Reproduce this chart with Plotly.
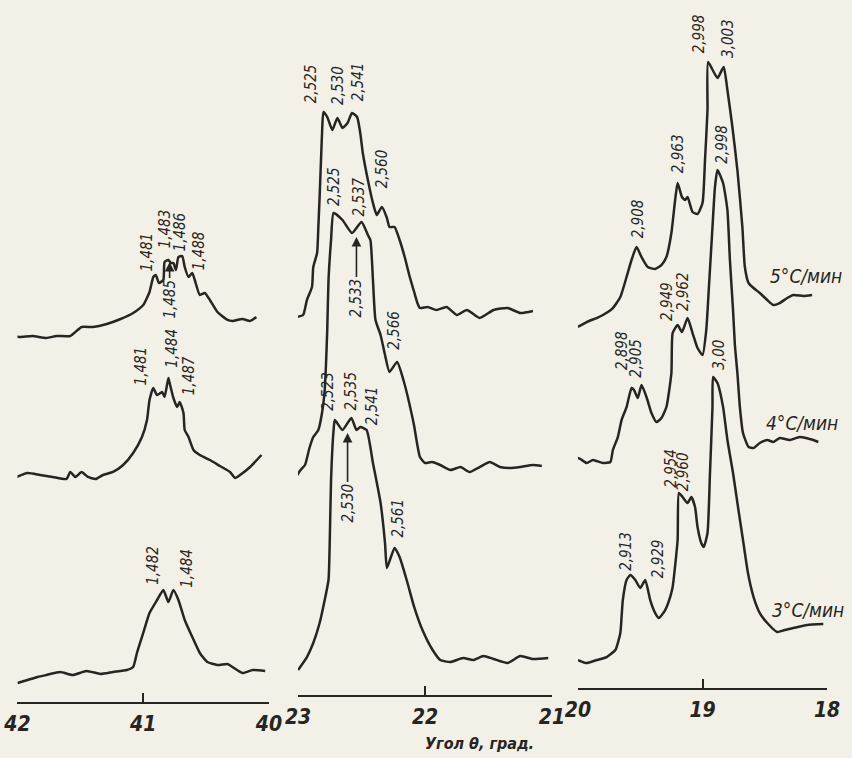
import plotly.graph_objects as go

# ---------------- data (theta in degrees, intensity in arbitrary units) ----------------
# Panel 1 (theta 42 -> 40)
p1_theta_5 = [42.08, 41.98, 41.88, 41.77, 41.69, 41.58, 41.49, 41.40, 41.29, 41.18, 41.08, 41.00, 40.95, 40.92, 40.90,
              40.875, 40.84, 40.83, 40.80, 40.78, 40.76, 40.74, 40.72, 40.69, 40.67, 40.64, 40.61, 40.59, 40.55, 40.51,
              40.47, 40.41, 40.33, 40.29, 40.21, 40.15, 40.10]
p1_int_5 = [366, 365, 366, 364, 366, 366, 375, 375, 378, 383, 389, 397, 410, 425, 427,
            419, 422, 440, 442, 439, 439, 432, 445, 446, 435, 425, 429, 422, 407, 409,
            402, 390, 382, 381, 383, 381, 385]
p1_theta_4 = [42.04, 41.92, 41.82, 41.72, 41.61, 41.58, 41.54, 41.49, 41.44, 41.38, 41.32, 41.24, 41.16, 41.08, 41.01,
              40.97, 40.95, 40.92, 40.89, 40.85, 40.83, 40.80, 40.79, 40.76, 40.73, 40.71, 40.68, 40.67, 40.64, 40.60,
              40.55, 40.47, 40.39, 40.31, 40.27, 40.23, 40.15, 40.06]
p1_int_4 = [223, 229, 227, 225, 223, 230, 225, 230, 225, 223, 227, 230, 237, 249, 265,
            282, 302, 314, 307, 310, 305, 324, 319, 304, 295, 300, 289, 272, 265, 252,
            247, 242, 236, 230, 224, 227, 235, 247]
p1_theta_3 = [42.00, 41.92, 41.84, 41.77, 41.66, 41.56, 41.45, 41.34, 41.24, 41.13, 41.08, 41.05, 41.00, 40.95, 40.89,
              40.84, 40.80, 40.76, 40.72, 40.67, 40.61, 40.55, 40.49, 40.41, 40.33, 40.29, 40.21, 40.13, 40.03]
p1_int_3 = [19, 22, 25, 27, 30, 27, 31, 28, 30, 32, 35, 49, 69, 89, 102,
            112, 100, 112, 102, 82, 65, 49, 40, 37, 38, 35, 29, 32, 31]

# Panel 2 (theta 23 -> 21)
p2_theta_5 = [23.08, 23.01, 22.96, 22.93, 22.89, 22.88, 22.85, 22.84, 22.83, 22.82, 22.81, 22.80, 22.77, 22.73, 22.69,
              22.65, 22.61, 22.575, 22.535, 22.51, 22.49, 22.45, 22.41, 22.38, 22.34, 22.30, 22.28, 22.24, 22.20, 22.16,
              22.12, 22.09, 22.06, 22.04, 21.98, 21.91, 21.83, 21.75, 21.67, 21.57, 21.46, 21.35, 21.25, 21.15]
p2_int_5 = [377, 378, 380, 395, 408, 428, 442, 468, 498, 532, 565, 583, 578, 565, 577,
            567, 572, 582, 578, 562, 542, 515, 492, 480, 488, 477, 468, 468, 455, 438,
            418, 405, 392, 387, 388, 385, 388, 380, 385, 377, 385, 387, 382, 384]
p2_theta_4 = [23.04, 22.98, 22.945, 22.91, 22.88, 22.84, 22.81, 22.79, 22.78, 22.77, 22.76, 22.74, 22.72, 22.65, 22.575,
              22.50, 22.45, 22.43, 22.41, 22.39, 22.35, 22.315, 22.28, 22.22, 22.17, 22.09, 22.04, 22.00, 21.945, 21.88,
              21.80, 21.72, 21.65, 21.57, 21.49, 21.41, 21.33, 21.25, 21.15, 21.08]
p2_int_4 = [213, 225, 230, 247, 258, 265, 283, 305, 330, 365, 415, 455, 482, 475, 462,
            473, 460, 455, 415, 375, 360, 340, 323, 333, 315, 272, 238, 232, 233, 230,
            225, 228, 223, 228, 233, 228, 227, 228, 230, 229]
p2_theta_3 = [23.00, 22.93, 22.88, 22.83, 22.79, 22.76, 22.75, 22.74, 22.72, 22.71, 22.65, 22.58, 22.54, 22.51, 22.46,
              22.41, 22.35, 22.315, 22.30, 22.24, 22.20, 22.14, 22.09, 22.02, 21.94, 21.88, 21.80, 21.70, 21.62, 21.54,
              21.46, 21.35, 21.25, 21.15, 21.03]
p2_int_3 = [25, 38, 52, 72, 95, 115, 155, 215, 265, 275, 265, 277, 265, 268, 265,
            232, 192, 152, 127, 147, 138, 113, 90, 65, 45, 35, 33, 37, 35, 39,
            36, 32, 39, 36, 37]

# Panel 3 (theta 20 -> 18)
p3_theta_5 = [20.09, 20.01, 19.93, 19.85, 19.80, 19.72, 19.66, 19.61, 19.57, 19.53, 19.49, 19.44, 19.38, 19.33, 19.29,
              19.25, 19.22, 19.20, 19.165, 19.14, 19.12, 19.08, 19.04, 19.00, 18.98, 18.96, 18.955, 18.88, 18.83, 18.80,
              18.76, 18.72, 18.68, 18.66, 18.63, 18.59, 18.54, 18.48, 18.43, 18.38, 18.32, 18.27, 18.19, 18.12]
p3_int_5 = [365, 361, 366, 370, 373, 380, 391, 411, 428, 441, 431, 421, 419, 423, 431,
            455, 488, 505, 491, 488, 491, 476, 474, 485, 528, 578, 626, 610, 621, 598,
            561, 518, 461, 421, 405, 400, 395, 388, 383, 385, 390, 393, 392, 393]
p3_theta_4 = [20.06, 20.00, 19.93, 19.88, 19.80, 19.74, 19.72, 19.68, 19.65, 19.61, 19.57, 19.55, 19.52, 19.49, 19.45,
              19.41, 19.37, 19.33, 19.29, 19.25, 19.24, 19.20, 19.165, 19.12, 19.08, 19.04, 19.00, 18.97, 18.95, 18.92,
              18.90, 18.88, 18.835, 18.80, 18.78, 18.755, 18.74, 18.72, 18.70, 18.675, 18.63, 18.59, 18.54, 18.48,
              18.43, 18.38, 18.30, 18.22, 18.11, 18.07]
p3_int_4 = [223, 230, 225, 228, 225, 226, 238, 251, 268, 281, 300, 298, 290, 303, 291,
            275, 266, 270, 281, 315, 355, 363, 356, 370, 355, 340, 333, 358, 398, 461,
            501, 518, 505, 478, 428, 378, 343, 315, 281, 255, 241, 240, 245, 248,
            246, 250, 248, 251, 248, 246]
p3_theta_3 = [20.00, 19.93, 19.85, 19.77, 19.70, 19.66, 19.65, 19.64, 19.61, 19.58, 19.54, 19.50, 19.46, 19.42, 19.38,
              19.35, 19.30, 19.26, 19.24, 19.20, 19.19, 19.16, 19.12, 19.09, 19.06, 19.04, 19.01, 18.99, 18.96, 18.94,
              18.92, 18.915, 18.88, 18.835, 18.80, 18.755, 18.715, 18.675, 18.635, 18.59, 18.54, 18.48, 18.40, 18.34,
              18.27, 18.16, 18.03]
p3_int_3 = [28, 25, 28, 31, 38, 55, 71, 88, 108, 113, 108, 100, 108, 88, 75,
            70, 78, 91, 101, 148, 195, 191, 185, 191, 181, 161, 145, 141, 155, 215,
            281, 311, 305, 281, 248, 215, 181, 148, 115, 91, 75, 65, 56, 58,
            60, 63, 64]

# Peak labels (interplanar spacings), anchored at the bottom of each label
p1_label_text = ["1,481", "1,483", "1,486", "1,488", "1,481", "1,484", "1,487", "1,482", "1,484"]
p1_label_theta = [40.97, 40.82, 40.70, 40.55, 41.01, 40.77, 40.63, 40.92, 40.65]
p1_label_int = [429, 452, 449, 430, 315, 332, 305, 115, 112]

p2_label_text = ["2,525", "2,530", "2,541", "2,560", "2,525", "2,537", "2,566", "2,523", "2,535", "2,541", "2,561"]
p2_label_theta = [22.90, 22.69, 22.53, 22.34, 22.72, 22.52, 22.25, 22.77, 22.59, 22.42, 22.22]
p2_label_int = [590, 588, 592, 505, 487, 477, 343, 282, 282, 268, 155]

p3_label_text = ["2,998", "3,003", "2,908", "2,963", "2,998", "2,949", "2,962", "2,898", "2,905", "3,00",
                 "2,913", "2,929", "2,954", "2,960"]
p3_label_theta = [19.03, 18.80, 19.52, 19.20, 18.85, 19.29, 19.16, 19.65, 19.54, 18.87,
                  19.62, 19.36, 19.26, 19.16]
p3_label_int = [633, 628, 448, 513, 522, 365, 375, 316, 308, 316,
                115, 108, 198, 195]

# Labels that point to a peak with an arrow (panel, text, head position)
arrow_panel = [1, 2, 2]
arrow_text = ["1,485", "2,533", "2,530"]
arrow_theta = [40.79, 22.54, 22.61]
arrow_int = [440, 458, 262]

# Heating-rate labels (panel 3)
rate_text = ["5°C/мин", "4°C/мин", "3°C/мин"]
rate_theta = [18.17, 18.20, 18.15]
rate_int = [412, 265, 78]

# Axis ticks
p1_ticks = [42, 41, 40]
p2_ticks = [23, 22, 21]
p3_ticks = [20, 19, 18]
axis_title = "Угол θ, град."

# ---------------- styling ----------------
INK = "#262522"
PAPER = "#f3f0e7"
LBL_FONT = "DejaVu Sans Condensed, Liberation Sans Narrow, DejaVu Sans, sans-serif"
TICK_FONT = "Liberation Sans Narrow, DejaVu Sans Condensed, DejaVu Sans, sans-serif"

fig = go.Figure()

series = [
    (1, p1_theta_5, p1_int_5), (1, p1_theta_4, p1_int_4), (1, p1_theta_3, p1_int_3),
    (2, p2_theta_5, p2_int_5), (2, p2_theta_4, p2_int_4), (2, p2_theta_3, p2_int_3),
    (3, p3_theta_5, p3_int_5), (3, p3_theta_4, p3_int_4), (3, p3_theta_3, p3_int_3),
]
axn = {1: "", 2: "2", 3: "3"}
for panel, th, it in series:
    fig.add_trace(go.Scatter(
        x=th, y=it, mode="lines",
        line=dict(color=INK, width=2.5, shape="spline", smoothing=0.5),
        xaxis="x" + axn[panel], yaxis="y" + axn[panel],
        showlegend=False, hoverinfo="skip"))

annotations = []
lbl_font = dict(family=LBL_FONT, size=15, color=INK, style="italic")
for panel, texts, ths, ints in [(1, p1_label_text, p1_label_theta, p1_label_int),
                                (2, p2_label_text, p2_label_theta, p2_label_int),
                                (3, p3_label_text, p3_label_theta, p3_label_int)]:
    for t, th, it in zip(texts, ths, ints):
        annotations.append(dict(
            x=th, y=it, xref="x" + axn[panel], yref="y" + axn[panel],
            text=t, textangle=-90, showarrow=False,
            xanchor="center", yanchor="bottom", font=lbl_font))

arrow_offsets = [37, 61, 70]
for panel, t, th, it, off in zip(arrow_panel, arrow_text, arrow_theta, arrow_int, arrow_offsets):
    annotations.append(dict(
        x=th, y=it, xref="x" + axn[panel], yref="y" + axn[panel],
        text=t, textangle=-90, showarrow=True, ax=0, ay=off,
        arrowhead=2, arrowsize=1.2, arrowwidth=1.6, arrowcolor=INK, standoff=0,
        font=lbl_font))

for t, th, it in zip(rate_text, rate_theta, rate_int):
    annotations.append(dict(
        x=th, y=it, xref="x3", yref="y3", text=t, showarrow=False,
        xanchor="center", yanchor="middle",
        font=dict(family=LBL_FONT, size=19, color=INK, style="italic")))

annotations.append(dict(
    x=0.563, y=0.0185, xref="paper", yref="paper", text=axis_title, showarrow=False,
    xanchor="center", yanchor="middle",
    font=dict(family=LBL_FONT, size=16, color=INK, style="italic", weight="bold")))

def xax(domain, rng, ticks, anchor):
    return dict(domain=domain, range=rng, anchor=anchor, tickvals=ticks,
                ticktext=[str(v) for v in ticks],
                showline=True, linecolor=INK, linewidth=2.2,
                ticks="inside", ticklen=9, tickwidth=2.2, tickcolor=INK,
                tickfont=dict(family=TICK_FONT, size=21, color=INK, style="italic", weight="bold"),
                ticklabelstandoff=2,
                showgrid=False, zeroline=False, automargin=False, fixedrange=True)

def yax(domain, rng, anchor):
    return dict(domain=domain, range=rng, anchor=anchor, visible=False,
                showgrid=False, zeroline=False, automargin=False, fixedrange=True)

fig.update_layout(
    template="none",
    width=852, height=758,
    margin=dict(l=0, r=0, t=0, b=0),
    paper_bgcolor=PAPER, plot_bgcolor=PAPER,
    xaxis=xax([0.0205, 0.3157], [42, 40], p1_ticks, "y"),
    xaxis2=xax([0.3498, 0.6479], [23, 21], p2_ticks, "y2"),
    xaxis3=xax([0.6784, 0.9707], [20, 18], p3_ticks, "y3"),
    yaxis=yax([0.0739, 1.0], [0, 702], "x"),
    yaxis2=yax([0.0831, 1.0], [0, 695], "x2"),
    yaxis3=yax([0.0923, 1.0], [0, 688], "x3"),
    annotations=annotations,
)

page_fix = ("document.body.style.margin='0px';"
            "document.body.style.padding='0px';"
            "document.body.style.overflow='hidden';"
            "document.body.style.background='" + PAPER + "';")
fig.write_html("out.html", post_script=page_fix, config={"displayModeBar": False})
